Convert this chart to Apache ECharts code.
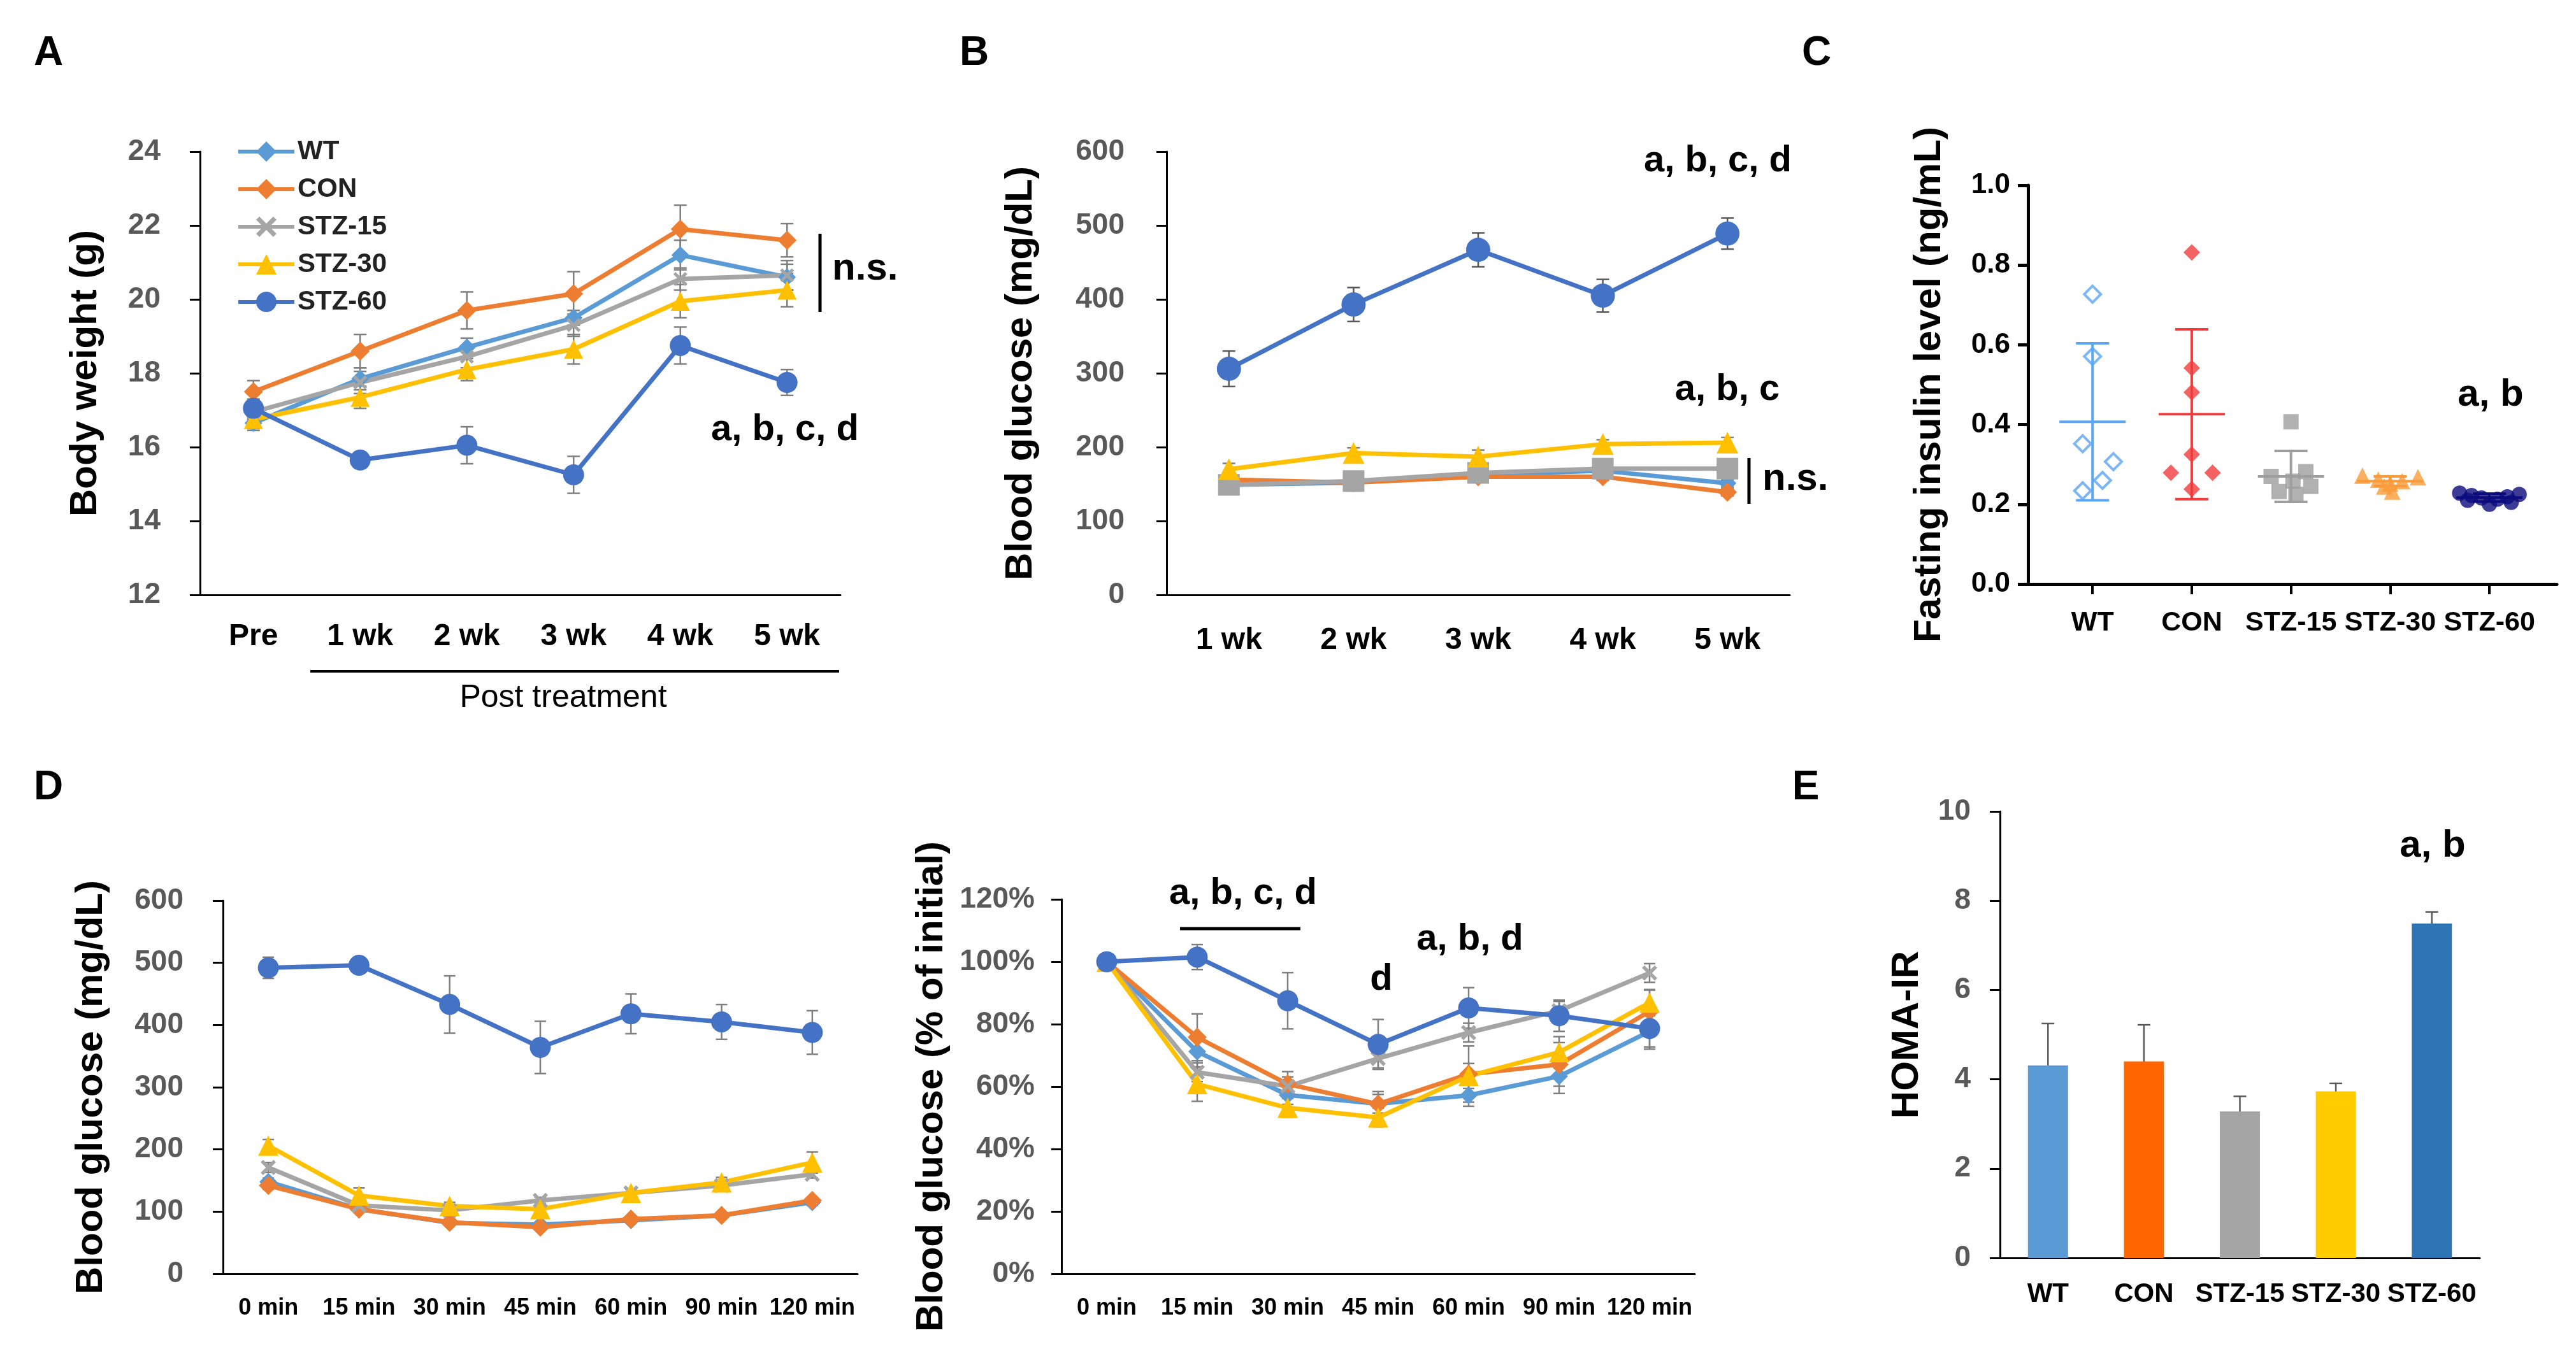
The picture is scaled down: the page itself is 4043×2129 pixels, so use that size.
<!DOCTYPE html>
<html><head><meta charset="utf-8">
<script src="https://cdn.jsdelivr.net/npm/echarts@6/dist/echarts.min.js"></script>
<style>html,body{margin:0;padding:0;background:#fff}#c{width:4043px;height:2129px}</style>
</head><body><div id="c"></div><script>
// ---------- DATA ----------
const groups = ['WT', 'CON', 'STZ-15', 'STZ-30', 'STZ-60'];
// A: body weight
const catsA = ['Pre', '1 wk', '2 wk', '3 wk', '4 wk', '5 wk'];
const bwWT  = [16.65, 17.85, 18.7, 19.5, 21.2, 20.6];
const bwCON = [17.5, 18.6, 19.7, 20.15, 21.9, 21.6];
const bwS15 = [16.95, 17.75, 18.45, 19.3, 20.55, 20.65];
const bwS30 = [16.75, 17.35, 18.1, 18.65, 19.95, 20.25];
const bwS60 = [17.05, 15.65, 16.05, 15.25, 18.75, 17.75];
const bwWTe  = [0.2, 0.3, 0.25, 0.2, 0.4, 0.35];
const bwCONe = [0.3, 0.45, 0.5, 0.6, 0.65, 0.45];
const bwS15e = [0.2, 0.3, 0.3, 0.3, 0.3, 0.4];
const bwS30e = [0.25, 0.3, 0.3, 0.4, 0.45, 0.45];
const bwS60e = [0.25, 0.2, 0.5, 0.5, 0.5, 0.35];
// B: blood glucose weekly
const catsB = ['1 wk', '2 wk', '3 wk', '4 wk', '5 wk'];
const bgWT  = [149, 152, 163, 168, 151];
const bgCON = [156, 152, 160, 160, 139];
const bgS15 = [149, 154, 165, 171, 171];
const bgS30 = [170, 192, 187, 204, 206];
const bgS60 = [306, 393, 467, 405, 489];
const bgWTe  = [5, 5, 5, 5, 5];
const bgCONe = [5, 5, 5, 5, 5];
const bgS15e = [5, 5, 5, 5, 5];
const bgS30e = [8, 7, 9, 6, 7];
const bgS60e = [24, 23, 23, 22, 21];
// C: fasting insulin (individual values + jitter offsets)
const insWT  = [0.727, 0.571, 0.352, 0.307, 0.260, 0.234];
const jitWT  = [0, 0, -0.1, 0.21, 0.1, -0.1];
const insCON = [0.832, 0.542, 0.481, 0.325, 0.279, 0.279, 0.238];
const jitCON = [0, 0, 0, 0, -0.21, 0.21, 0];
const insS15 = [0.407, 0.282, 0.270, 0.258, 0.245, 0.232, 0.225];
const jitS15 = [0, 0.15, -0.2, 0.02, 0.2, -0.12, 0.05];
const insS30 = [0.272, 0.268, 0.262, 0.258, 0.252, 0.245, 0.232];
const jitS30 = [-0.28, 0.28, -0.12, 0.12, 0, -0.06, 0.02];
const insS60 = [0.228, 0.225, 0.222, 0.219, 0.216, 0.213, 0.210, 0.205, 0.200];
const jitS60 = [-0.3, 0.3, -0.18, 0.18, -0.08, 0.08, -0.22, 0.22, 0];
const insMean = [0.407, 0.426, 0.270, 0.258, 0.217];
const insSD   = [0.197, 0.213, 0.064, 0.012, 0.010];
// D: OGTT
const catsD = ['0 min', '15 min', '30 min', '45 min', '60 min', '90 min', '120 min'];
const ogWT  = [148, 104, 82, 79, 86, 94, 115];
const ogCON = [142, 104, 83, 75, 88, 94, 118];
const ogS15 = [171, 110, 102, 118, 130, 142, 160];
const ogS30 = [206, 126, 109, 104, 130, 147, 179];
const ogS60 = [492, 496, 433, 364, 418, 405, 388];
const ogWTe  = [6, 5, 4, 4, 4, 4, 5];
const ogCONe = [6, 5, 4, 4, 4, 4, 5];
const ogS15e = [8, 6, 5, 5, 6, 6, 6];
const ogS30e = [10, 12, 6, 5, 6, 8, 17];
const ogS60e = [17, 5, 46, 42, 32, 28, 35];
const pcWT  = [100, 71.2, 57.3, 54.5, 57.2, 63.3, 77.7];
const pcCON = [100, 75.8, 60.8, 54.4, 64.0, 67.1, 84.1];
const pcS15 = [100, 64.6, 60.1, 69.0, 77.3, 84.3, 96.4];
const pcS30 = [100, 60.8, 53.2, 50.1, 63.4, 71.0, 86.9];
const pcS60 = [100, 101.5, 87.5, 73.5, 85.2, 82.7, 78.6];
const pcWTe  = [1, 5, 3, 3, 3.5, 5.5, 5];
const pcCONe = [1, 7.5, 4, 4, 9, 7, 7];
const pcS15e = [1, 3, 3, 3, 3, 3, 3];
const pcS30e = [1, 5.5, 3, 3, 4, 5, 4];
const pcS60e = [1, 4, 9, 8, 6.5, 5, 6.6];
// E: HOMA-IR
const homa    = [4.31, 4.40, 3.28, 3.73, 7.49];
const homaErr = [0.94, 0.82, 0.34, 0.18, 0.26];

// ---------- STYLE ----------
const FONT = '"Liberation Sans", Arial, Helvetica, sans-serif';
const lineColors = {WT:'#5B9BD5', CON:'#ED7D31', 'STZ-15':'#A5A5A5', 'STZ-30':'#FFC000', 'STZ-60':'#4472C4'};
const xPath = 'path://M0,1.6L1.6,0L5,3.4L8.4,0L10,1.6L6.6,5L10,8.4L8.4,10L5,6.6L1.6,10L0,8.4L3.4,5Z';
const insColors = ['#5AA5F5', '#F03C3C', '#9E9E9E', '#F99B3A', '#0B0B7D'];
const barColors = ['#5B9BD5', '#FF6600', '#A5A5A5', '#FFCC00', '#2E75B6'];

function catAxis(gi, cats, fs, margin) {
  return {type:'category', gridIndex:gi, data:cats, boundaryGap:true,
    axisLine:{lineStyle:{color:'#000', width:3}},
    axisTick:{alignWithLabel:true, length:16, lineStyle:{color:'#000', width:3}},
    axisLabel:{fontSize:fs, fontWeight:'bold', color:'#000', margin:margin, fontFamily:FONT, interval:0, hideOverlap:false},
    splitLine:{show:false}};
}
function valAxis(gi, min, max, interval, name, nameGap, color, margin, fs, fmt, lw) {
  return {type:'value', gridIndex:gi, min:min, max:max, interval:interval,
    name:name, nameLocation:'middle', nameGap:nameGap, nameRotate:90,
    nameTextStyle:{fontSize:60, fontWeight:'bold', color:'#000', fontFamily:FONT},
    axisLine:{show:true, lineStyle:{color:'#000', width:lw || 3}},
    axisTick:{show:true, length:16, lineStyle:{color:'#000', width:lw || 3}},
    axisLabel:{fontSize:fs, fontWeight:'bold', color:color, margin:margin, fontFamily:FONT, formatter:fmt},
    splitLine:{show:false}};
}
function lineS(name, data, ax, sym, size) {
  return {type:'line', name:name, xAxisIndex:ax, yAxisIndex:ax, data:data,
    symbol:sym, symbolSize:size, showSymbol:true, z:3,
    lineStyle:{color:lineColors[name], width:7},
    itemStyle:{color:lineColors[name], borderWidth:0}, animation:false};
}
function errS(ax, vals, errs, color, cap, lw) {
  return {type:'custom', xAxisIndex:ax, yAxisIndex:ax, z:2, animation:false, silent:true,
    data: vals.map((v, i) => [i, v, errs[i]]),
    renderItem: function (params, api) {
      const i = api.value(0), v = api.value(1), e = api.value(2);
      const t = api.coord([i, v + e]), b = api.coord([i, v - e]);
      const st = {stroke:color, lineWidth:lw || 2.5};
      return {type:'group', children:[
        {type:'line', shape:{x1:t[0], y1:t[1], x2:b[0], y2:b[1]}, style:st},
        {type:'line', shape:{x1:t[0]-cap, y1:t[1], x2:t[0]+cap, y2:t[1]}, style:st},
        {type:'line', shape:{x1:b[0]-cap, y1:b[1], x2:b[0]+cap, y2:b[1]}, style:st}
      ]};
    }};
}

const grids = [
  {left:314, top:238, width:1005, height:696},   // A
  {left:1831, top:238, width:978, height:696},   // B
  {left:3183, top:291, width:830, height:626},   // C
  {left:350, top:1414, width:996, height:586},   // D left
  {left:1666, top:1412, width:994, height:588},  // D right
  {left:3139, top:1274, width:753, height:701}   // E
].map(g => Object.assign(g, {containLabel:false, outerBoundsMode:'none'}));

const xAxes = [
  catAxis(0, catsA, 48, 42),
  catAxis(1, catsB, 48, 48),
  {type:'value', gridIndex:2, min:0.35, max:5.68,
    axisLine:{lineStyle:{color:'#000', width:5}},
    axisTick:{show:true, length:16, customValues:[1,2,3,4,5], lineStyle:{color:'#000', width:4}},
    axisLabel:{customValues:[1,2,3,4,5], fontSize:43, fontWeight:'bold', color:'#000', margin:40, fontFamily:FONT,
      hideOverlap:false, formatter: v => groups[Math.round(v) - 1] || ''},
    splitLine:{show:false}},
  catAxis(3, catsD, 36, 36),
  catAxis(4, catsD, 36, 36),
  catAxis(5, groups, 42, 36)
];
const yAxes = [
  valAxis(0, 12, 24, 2, 'Body weight (g)', 150, '#595959', 62, 46),
  valAxis(1, 0, 600, 100, 'Blood glucose (mg/dL)', 199, '#595959', 66, 46),
  valAxis(2, 0, 1.0, 0.2, 'Fasting insulin level (ng/mL)', 125, '#000', 28, 44, v => v.toFixed(1), 5),
  valAxis(3, 0, 600, 100, 'Blood glucose (mg/dL)', 177, '#595959', 62, 46),
  valAxis(4, 0, 120, 20, 'Blood glucose (% of initial)', 174, '#595959', 42, 46, '{value}%'),
  valAxis(5, 0, 10, 2, 'HOMA-IR', 116, '#595959', 46, 46)
];

const EC = '#7F7F7F';
const series = [];
// A
series.push(errS(0, bwWT, bwWTe, EC, 10), errS(0, bwCON, bwCONe, EC, 10), errS(0, bwS15, bwS15e, EC, 10),
            errS(0, bwS30, bwS30e, EC, 10), errS(0, bwS60, bwS60e, EC, 10));
series.push(lineS('WT', bwWT, 0, 'diamond', 28), lineS('CON', bwCON, 0, 'diamond', 30),
            lineS('STZ-15', bwS15, 0, xPath, 22), lineS('STZ-30', bwS30, 0, 'triangle', 30),
            lineS('STZ-60', bwS60, 0, 'circle', 33));
// B
series.push(errS(1, bgWT, bgWTe, EC, 10), errS(1, bgCON, bgCONe, EC, 10), errS(1, bgS15, bgS15e, EC, 10),
            errS(1, bgS30, bgS30e, EC, 10), errS(1, bgS60, bgS60e, '#595959', 10));
series.push(lineS('WT', bgWT, 1, 'diamond', 28), lineS('CON', bgCON, 1, 'diamond', 30),
            lineS('STZ-15', bgS15, 1, 'rect', 34), lineS('STZ-30', bgS30, 1, 'triangle', 34),
            lineS('STZ-60', bgS60, 1, 'circle', 38));
// C
const insSets = [insWT, insCON, insS15, insS30, insS60];
const jitSets = [jitWT, jitCON, jitS15, jitS30, jitS60];
const insSym = ['diamond', 'diamond', 'rect', 'triangle', 'circle'];
const insSize = [26, 26, 24, 26, 24];
insSets.forEach((vals, g) => {
  series.push({type:'scatter', xAxisIndex:2, yAxisIndex:2, animation:false, z:3,
    symbol:insSym[g], symbolSize:insSize[g],
    data: vals.map((v, i) => [g + 1 + jitSets[g][i], v]),
    itemStyle: g === 0 ? {color:'#fff', borderColor:insColors[g], borderWidth:4} : {color:insColors[g]}});
});
series.push({type:'custom', xAxisIndex:2, yAxisIndex:2, z:4, animation:false, silent:true,
  data: insMean.map((m, i) => [i + 1, m, insSD[i], i]),
  renderItem: function (params, api) {
    const x = api.value(0), m = api.value(1), s = api.value(2), c = insColors[api.value(3)];
    const pm = api.coord([x, m]), pt = api.coord([x, m + s]), pb = api.coord([x, m - s]);
    const st = {stroke:c, lineWidth:4};
    return {type:'group', children:[
      {type:'line', shape:{x1:pm[0]-52, y1:pm[1], x2:pm[0]+52, y2:pm[1]}, style:st},
      {type:'line', shape:{x1:pt[0], y1:pt[1], x2:pb[0], y2:pb[1]}, style:st},
      {type:'line', shape:{x1:pt[0]-26, y1:pt[1], x2:pt[0]+26, y2:pt[1]}, style:st},
      {type:'line', shape:{x1:pb[0]-26, y1:pb[1], x2:pb[0]+26, y2:pb[1]}, style:st}
    ]};
  }});
// D left
series.push(errS(3, ogWT, ogWTe, EC, 9), errS(3, ogCON, ogCONe, EC, 9), errS(3, ogS15, ogS15e, EC, 9),
            errS(3, ogS30, ogS30e, EC, 9), errS(3, ogS60, ogS60e, EC, 9));
series.push(lineS('WT', ogWT, 3, 'diamond', 28), lineS('CON', ogCON, 3, 'diamond', 30),
            lineS('STZ-15', ogS15, 3, xPath, 24), lineS('STZ-30', ogS30, 3, 'triangle', 32),
            lineS('STZ-60', ogS60, 3, 'circle', 33));
// D right
series.push(errS(4, pcWT, pcWTe, EC, 9), errS(4, pcCON, pcCONe, EC, 9), errS(4, pcS15, pcS15e, EC, 9),
            errS(4, pcS30, pcS30e, EC, 9), errS(4, pcS60, pcS60e, EC, 9));
series.push(lineS('WT', pcWT, 4, 'diamond', 28), lineS('CON', pcCON, 4, 'diamond', 30),
            lineS('STZ-15', pcS15, 4, xPath, 24), lineS('STZ-30', pcS30, 4, 'triangle', 32),
            lineS('STZ-60', pcS60, 4, 'circle', 33));
// E
series.push({type:'bar', xAxisIndex:5, yAxisIndex:5, barWidth:63, animation:false, z:2,
  data: homa.map((v, i) => ({value:v, itemStyle:{color:barColors[i]}}))});
series.push(errS(5, homa, homaErr, '#595959', 10, 2.5));

// ---------- ANNOTATIONS ----------
function txt(x, y, s, fs, align, weight) {
  return {type:'text', x:x, y:y, z:10, style:{text:s, fontSize:fs, fontWeight:weight || 'bold', fill:'#000',
    fontFamily:FONT, align:align || 'center', verticalAlign:'middle'}};
}
function ln(x1, y1, x2, y2, w) {
  return {type:'line', z:10, shape:{x1, y1, x2, y2}, style:{stroke:'#000', lineWidth:w || 4}};
}
const graphic = [
  txt(76, 84, 'A', 64), txt(1529, 84, 'B', 64), txt(2851, 84, 'C', 64),
  txt(76, 1237, 'D', 64), txt(2834, 1237, 'E', 64),
  ln(1287, 367, 1287, 490, 5), txt(1306, 422, 'n.s.', 60, 'left'),
  txt(1232, 675, 'a, b, c, d', 58),
  ln(487, 1054, 1317, 1054, 4), txt(884, 1096, 'Post treatment', 50, 'center', 'normal'),
  txt(2696, 253, 'a, b, c, d', 58), txt(2711, 612, 'a, b, c', 58),
  ln(2745, 719, 2745, 791, 5), txt(2766, 752, 'n.s.', 60, 'left'),
  txt(3909, 620, 'a, b', 60),
  txt(1951, 1403, 'a, b, c, d', 58), ln(1852, 1458, 2041, 1458, 5),
  txt(2168, 1538, 'd', 58), txt(2307, 1475, 'a, b, d', 58),
  txt(3818, 1328, 'a, b', 60)
];

const chart = echarts.init(document.getElementById('c'), null, {renderer:'canvas'});
chart.setOption({
  backgroundColor:'#fff', animation:false,
  textStyle:{fontFamily:FONT},
  grid:grids, xAxis:xAxes, yAxis:yAxes, series:series, graphic:graphic,
  legend:{data:groups, orient:'vertical', left:366, top:212, itemWidth:88, itemHeight:40, itemGap:17,
    selectedMode:false, lineStyle:{width:6},
    textStyle:{fontSize:42, fontWeight:'bold', color:'#222', fontFamily:FONT, lineHeight:40}}
});
</script></body></html>
